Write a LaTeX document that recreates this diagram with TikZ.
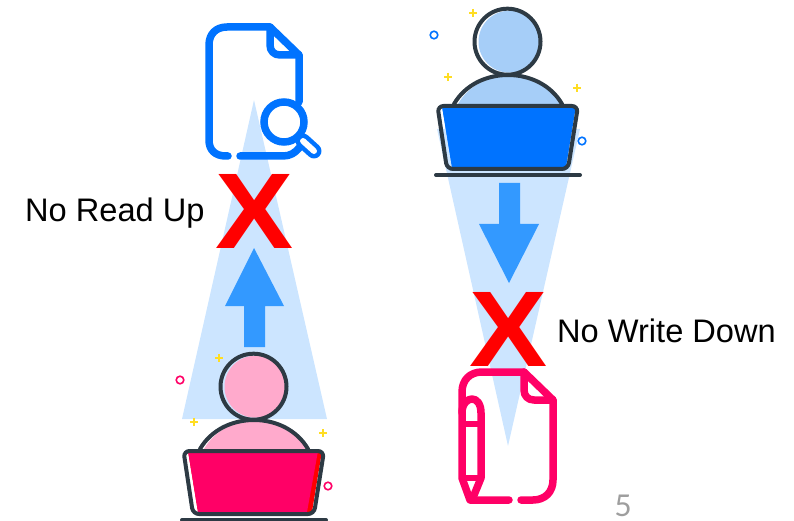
\documentclass[tikz,border=0pt]{standalone}
\usepackage{fontspec}
\setmainfont{Liberation Sans}
\newfontfamily\pagenumfont{Lato}
\definecolor{beam}{HTML}{CCE5FF}
\definecolor{arrowblue}{HTML}{3399FF}
\definecolor{docblue}{HTML}{0073FF}
\definecolor{softblue}{HTML}{A6CEF8}
\definecolor{hotpink}{HTML}{FF0066}
\definecolor{softpink}{HTML}{FFAACC}
\definecolor{inkdark}{HTML}{2D3A44}
\definecolor{spark}{HTML}{FFDD22}
\tikzset{
  x=1pt,y=-1pt,
  beamshape/.style={fill=beam,draw=none},
  blockarrow/.style={fill=arrowblue,draw=none},
  docline/.style={line width=7.5pt,line cap=round,line join=round},
  inkline/.style={draw=inkdark,line width=4pt,line join=round,line cap=round},
  plusmark/.style={draw=spark,line width=1.5pt},
  ringmark/.style={line width=1.6pt,fill=white},
  crossmark/.style={text=red,inner sep=0pt},
  lab/.style={font=\fontsize{32.6}{36}\selectfont,inner sep=0pt,text=black},
}
\newcommand{\bigcross}{\resizebox{78pt}{74pt}{\bfseries X}}
\newcommand{\personfig}[6]{% dx dy soft strong sliver ring
\begin{scope}[shift={(#1,#2)}]
  \fill[#3] (204,449) .. controls (215,430) and (235,421) .. (254,421)
     .. controls (275,421) and (295,430) .. (306,449) -- cycle;
  \draw[inkline] (200,449) .. controls (211,430) and (232,420) .. (254,420)
     .. controls (276,420) and (297,430) .. (308,449);
  \fill[#3] (255.5,386.7) circle (31);
  \draw[inkline] (253.5,386.7) circle (33);
  \fill[#5] (188,451) -- (322,451) -- (312,512) -- (198,512) -- cycle;
  \fill[#4] (188,451) -- (318,451) -- (307,512) -- (198,512) -- cycle;
  \draw[inkline,rounded corners=6pt] (183.5,451) -- (324,451) -- (314,514) -- (193,514) -- cycle;
  \draw[inkline] (182,520) -- (326,520);
  \foreach \px/\py in {219/358,194/422,323/433}
    \draw[plusmark] (\px-4,\py) -- (\px+4,\py) (\px,\py-4) -- (\px,\py+4);
  \draw[ringmark,draw=#6] (180,380) circle (3.8);
  \draw[ringmark,draw=#6] (328,486) circle (3.8);
\end{scope}}
\begin{document}
\begin{tikzpicture}
\useasboundingbox (0,0) rectangle (794,521);
% beams
\fill[beamshape] (254,100) -- (327,419) -- (182,419) -- cycle;
\fill[beamshape] (437,129) -- (580,129) -- (508,446) -- cycle;
% block arrows
\fill[blockarrow] (254,248) -- (284,306) -- (265,306) -- (265,347) -- (244,347) -- (244,306) -- (225,306) -- cycle;
\fill[blockarrow] (499,183) -- (520,183) -- (520,224) -- (539,224) -- (509,283) -- (479,224) -- (499,224) -- cycle;
% people
\personfig{0}{0}{softpink}{hotpink}{red}{hotpink}
\personfig{254}{-345}{softblue}{docblue}{docblue}{docblue}
% crosses
\node[crossmark] (crossleft) at (254.5,211.5) {\bigcross};
\node[crossmark] (crossright) at (509,329.5) {\bigcross};
% magnifier document
\draw[docline,draw=docblue] (228,156) -- (226,156) .. controls (215,156) and (209,150) .. (209,140)
  -- (209,45) .. controls (209,34) and (216,27) .. (227,27) -- (270,27) -- (299,55) -- (299,102);
\draw[docline,draw=docblue] (270,27) -- (270,45) .. controls (270,51) and (274,55) .. (280,55) -- (299,55);
\draw[docline,draw=docblue] (240,156) -- (283,156) .. controls (290,156) and (295,153) .. (299,148);
\draw[line width=15pt,line cap=round,draw=docblue] (303,141) -- (314,151);
\draw[line width=6pt,line cap=round,draw=white] (303,141) -- (314,151);
\draw[line width=7.5pt,draw=docblue,fill=white] (284,122) circle (20);
% pencil document
\draw[docline,draw=hotpink] (509,500) -- (470,500) -- (462,478) -- (462,392) .. controls (462,380) and (470,372) .. (482,372)
  -- (524,372) -- (553,400) -- (553,480) .. controls (553,492) and (545,500) .. (533,500) -- (521,500);
\draw[docline,draw=hotpink] (524,372) -- (524,390) .. controls (524,396) and (528,400) .. (534,400) -- (553,400);
\draw[docline,draw=hotpink] (462,413) .. controls (462,403) and (468,399) .. (472,399) .. controls (477,399) and (481,404) .. (481,413) -- (481,478) -- (472,500);
\draw[line width=5.5pt,draw=hotpink] (462,424) -- (481,424);
\draw[line width=5.5pt,draw=hotpink] (462,478) -- (481,478);
% labels
\node[lab,anchor=west] (readup) at (25,213) {No Read Up};
\node[lab,anchor=west] (writedown) at (557,331) {No Write Down};
\node[anchor=center,inner sep=0pt,text=black!38,font=\pagenumfont\fontsize{30}{34}\selectfont] (pagenum) at (623,506) {5};
\end{tikzpicture}
\end{document}
